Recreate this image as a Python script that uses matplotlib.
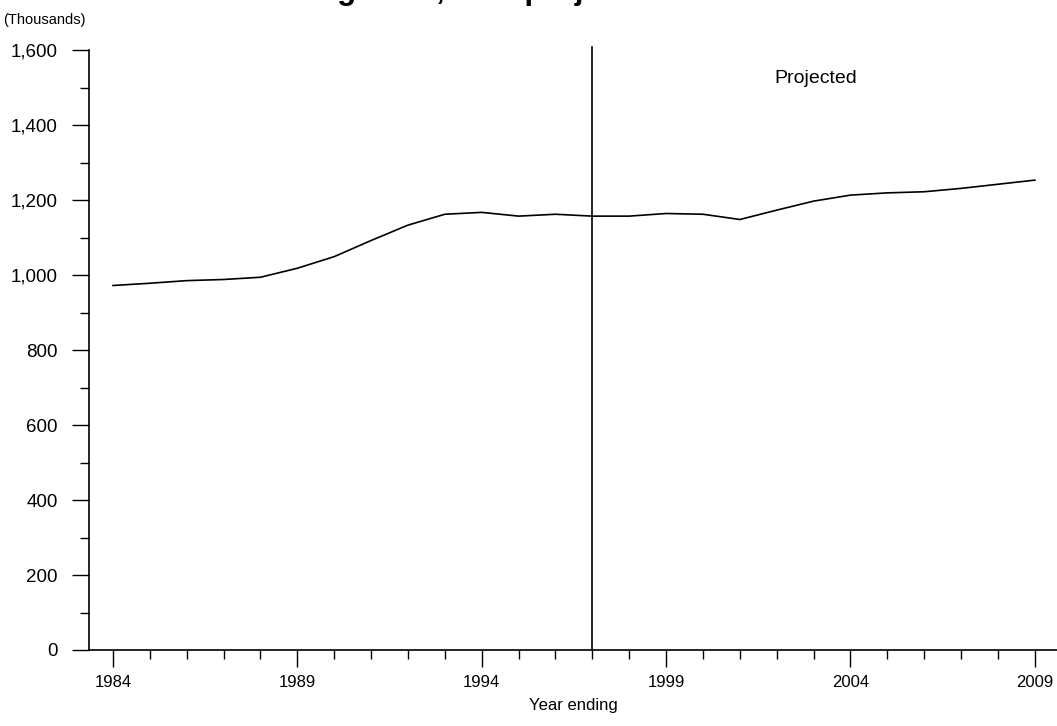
import matplotlib.pyplot as plt
import numpy as np
from matplotlib.ticker import MultipleLocator, FuncFormatter

plt.rcParams['font.family'] = ['Liberation Sans', 'DejaVu Sans']

# data (thousands)
years = list(range(1984, 2010))
values = [972, 978, 985, 988, 994, 1018, 1049, 1092, 1133, 1162, 1167, 1157,
          1162, 1157, 1157, 1164, 1162, 1148, 1173, 1197, 1213, 1219, 1222,
          1231, 1242, 1253]
split_year = 1997
# title is cut off at the top of the reference, only descenders show
title = "Number of students aged 16, with projections"

fig = plt.figure(figsize=(10.57, 7.26), dpi=100)
ax = fig.add_axes([89 / 1057, 1 - 650 / 726, 1 - 89 / 1057, 600 / 726])

ax.plot(years, values, color='black', lw=1.2)
ax.axvline(split_year, color='black', lw=1.2, ymax=1.005, clip_on=False)

ax.set_xlim(1983.35, 2009.6)
ax.set_ylim(0, 1600)

for s in ['top', 'right']:
    ax.spines[s].set_visible(False)
for s in ['left', 'bottom']:
    ax.spines[s].set_linewidth(1.2)

ax.yaxis.set_major_locator(MultipleLocator(200))
ax.yaxis.set_minor_locator(MultipleLocator(100))
ax.yaxis.set_major_formatter(FuncFormatter(lambda v, p: f"{int(v):,}"))
ax.xaxis.set_minor_locator(MultipleLocator(1))
ax.set_xticks(range(1984, 2010, 5))

ax.tick_params(axis='both', which='major', direction='out', length=12.5, width=1.0,
               color='black')
ax.tick_params(axis='both', which='minor', direction='out', length=6.5, width=1.0,
               color='black')
ax.tick_params(axis='x', which='major', pad=5.5, labelsize=12)
ax.tick_params(axis='y', which='major', pad=10, labelsize=13.5)

ax.set_xlabel("Year ending", fontsize=12, labelpad=6)
ax.text(2003.06, 1525, "Projected", fontsize=14, ha='center', va='center')

fig.text(3 / 1057, 1 - 20 / 726, "(Thousands)", fontsize=10.5, ha='left', va='center')

# place the title so the "g" of "aged" sits where it does in the reference
renderer = fig.canvas.get_renderer()
probe = fig.text(0, 0, title[:title.index("aged") + 1], fontsize=22.5,
                 fontweight='bold')
prefix_w = probe.get_window_extent(renderer).width
probe.remove()
fig.text((337 - prefix_w) / 1057, 1 + 1.5 / 726, title, fontsize=22.5,
         fontweight='bold', ha='left', va='baseline')

fig.savefig("out.png", dpi=100)
